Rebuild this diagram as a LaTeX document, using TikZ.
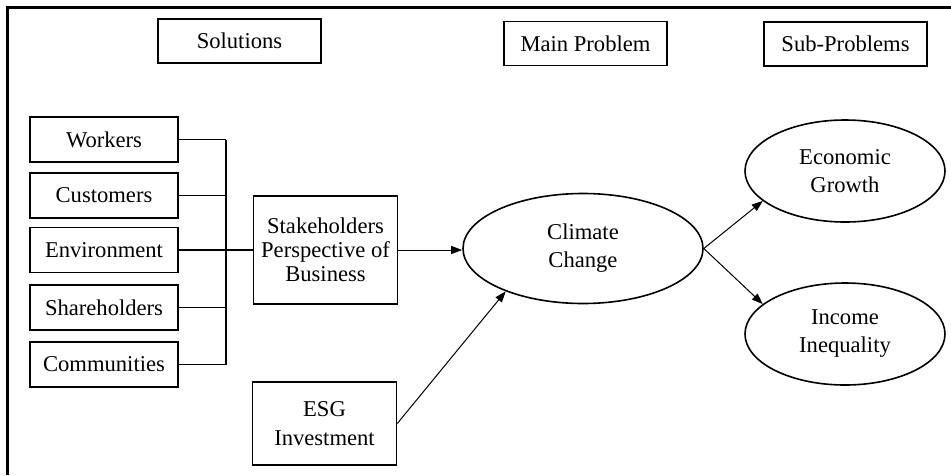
\documentclass[tikz,border=0pt]{standalone}
\usepackage{fontspec}
\setmainfont{Liberation Serif}
\usetikzlibrary{shapes.geometric,arrows.meta}
\begin{document}
\begin{tikzpicture}[x=1pt,y=-1pt,
  txt/.style={font=\fontsize{22.6}{28}\selectfont, align=center, inner sep=0pt},
  headbox/.style={txt, draw, line width=1.6pt, minimum width=163pt, minimum height=44pt},
  partbox/.style={txt, draw, line width=1.6pt, minimum width=148pt, minimum height=45pt},
  midbox/.style={txt, draw, line width=1.6pt, minimum width=144pt},
  oval/.style={txt, draw, ellipse, line width=1.6pt},
  link/.style={line width=1.6pt},
  flow/.style={line width=1pt, -{Triangle[length=11pt,width=8pt]}}
]
\useasboundingbox (0,0) rectangle (951,475);

% outer frame (top and left edges)
\draw[line width=3pt, line join=miter] (7,475) -- (7,7) -- (951,7);

% column headings
\node[headbox] (sol)  at (239.5,41)   {Solutions};
\node[headbox] (main) at (585.5,43.5) {Main Problem};
\node[headbox] (sub)  at (845.5,44)   {Sub-Problems};

% stakeholder groups
\node[partbox] (workers)  at (104,139.5) {Workers};
\node[partbox] (custom)   at (104,195.5) {Customers};
\node[partbox] (environ)  at (104,250)   {Environment};
\node[partbox] (share)    at (104,307.5) {Shareholders};
\node[partbox] (commun)   at (104,364.5) {Communities};

% perspective and investment boxes
\node[midbox, minimum height=108pt, font=\fontsize{22.6}{24}\selectfont]
  (stake) at (325.5,250) {Stakeholders\\Perspective of\\Business};
\node[midbox, minimum height=83pt, font=\fontsize{22.6}{29}\selectfont]
  (esg) at (324.5,423.5) {ESG\\Investment};

% problems
\node[oval, minimum width=240pt, minimum height=110pt] (climate) at (583,248.5) {Climate\\Change};
\node[oval, minimum width=200pt, minimum height=102pt] (econ)    at (845,171)   {Economic\\Growth};
\node[oval, minimum width=200pt, minimum height=102pt] (income)  at (845,334)   {Income\\Inequality};

% bus joining the stakeholder groups
\coordinate (bus) at (226,250);
\foreach \n in {workers,custom,environ,share,commun}
  \draw[link] (\n.east) -- (\n.east -| bus);
\draw[link] (workers.east -| bus) -- (commun.east -| bus);
\draw[link] (bus) -- (stake.west);

% causal arrows
\draw[flow] (stake.east) -- (stake.east -| climate.west);
\draw[flow] (esg.east) -- (climate.209);
\draw[flow] (climate.east) -- (econ.200);
\draw[flow] (climate.east) -- (income.160);
\end{tikzpicture}
\end{document}
